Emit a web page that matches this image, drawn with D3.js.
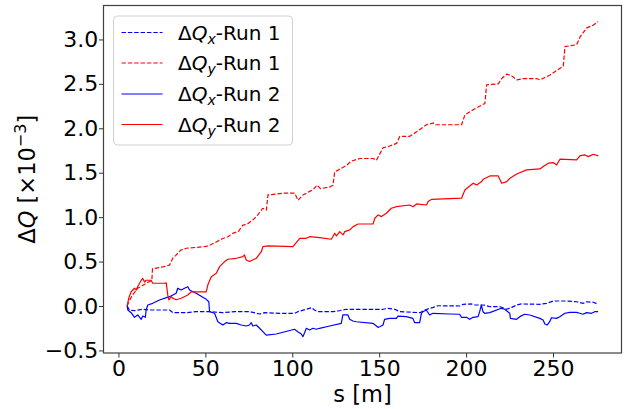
<!DOCTYPE html>
<html>
<head>
<meta charset="utf-8">
<script src="https://cdn.jsdelivr.net/npm/d3@7"></script>
<style>
  html, body { margin: 0; padding: 0; background: #fff; }
  svg { display: block; font-family: "DejaVu Sans", sans-serif; }
</style>
</head>
<body>
<svg id="chart" width="625" height="409"></svg>
<script>
// Tune shift along the line, s [m] vs ΔQ [×10⁻³]
const qxRun1 = [[5,0],[6.3,-0.045],[9.2,-0.053],[14,-0.037],[17.8,-0.045],[29.4,-0.045],[31.3,-0.075],[39,-0.075],[44.7,-0.064],[52.4,-0.064],[60,-0.075],[66.8,-0.064],[75.4,-0.064],[81.2,-0.09],[84.1,-0.075],[92.7,-0.082],[101.4,-0.082],[103.2,-0.064],[108.1,-0.037],[111,-0.019],[112.8,-0.045],[114.7,-0.064],[123.4,-0.064],[126.2,-0.056],[131.1,-0.037],[152.2,-0.037],[155.1,-0.026],[158.9,-0.037],[161.9,-0.064],[173.4,-0.075],[176.3,-0.045],[179.1,-0.026],[181.1,-0.015],[183.9,0.003],[196.4,0],[198.3,0.019],[203.1,0.023],[205.1,0.011],[209.9,0.011],[213.7,-0.008],[219.5,-0.008],[223.4,-0.037],[226.2,-0.015],[229.1,0.011],[231.8,0.023],[242.5,0.019],[246.4,0.03],[250.2,0.056],[257.9,0.056],[263.6,0.048],[267.5,0.03],[269.4,0.048],[273.2,0.042],[275.9,0.019]];

const qyRun1 = [[5,0],[6,0.05],[8,0.12],[11,0.2],[13,0.22],[16,0.255],[19.2,0.29],[19.6,0.42],[25.5,0.44],[29.4,0.46],[31.3,0.54],[33,0.57],[36,0.63],[39,0.65],[45,0.66],[50.5,0.67],[53,0.69],[56.3,0.72],[60,0.76],[63,0.78],[66,0.82],[69,0.84],[71.6,0.91],[74,0.92],[77.4,0.97],[80,1.02],[83,1.1],[85.1,1.08],[86,1.25],[95,1.27],[101.4,1.27],[103.3,1.19],[106.2,1.25],[110,1.29],[112,1.31],[114.3,1.36],[116.2,1.32],[121.6,1.34],[123.4,1.36],[124.4,1.51],[128.3,1.55],[131,1.58],[134,1.63],[138.8,1.66],[146.5,1.66],[148.4,1.64],[152.2,1.78],[156,1.8],[160,1.83],[161.9,1.91],[167.6,1.91],[171.5,1.96],[177.2,2.04],[181.1,2.06],[182,2.04],[197.4,2.04],[199.3,2.15],[204.1,2.21],[210.8,2.28],[211.8,2.49],[218.5,2.5],[220.5,2.56],[223.4,2.61],[226.2,2.59],[229.1,2.545],[232.9,2.56],[240.6,2.56],[242.5,2.545],[248.3,2.6],[255.9,2.7],[256.9,2.92],[263.6,2.94],[265.6,3.03],[269.4,3.13],[273,3.16],[276,3.2]];

const qxRun2 = [[5,0],[5.4,-0.045],[7.3,-0.075],[9.2,-0.127],[11.1,-0.101],[13.1,-0.15],[14,-0.113],[15.5,-0.127],[15.9,-0.045],[16.9,0.011],[19.7,0.03],[23.6,0.068],[29.4,0.105],[31.3,0.124],[33.2,0.143],[34.1,0.2],[36.1,0.18],[38,0.2],[39.9,0.217],[40.9,0.18],[44.7,0.143],[50.5,0.075],[52,0.048],[52.4,-0.064],[55.3,-0.082],[57.2,-0.177],[60,-0.214],[62,-0.188],[63.9,-0.195],[67.8,-0.195],[70.6,-0.214],[73.5,-0.225],[75.4,-0.214],[76.4,-0.188],[77.3,-0.225],[79.3,-0.214],[81.2,-0.251],[83.1,-0.289],[85,-0.327],[90.8,-0.315],[101.3,-0.262],[103.2,-0.289],[105.2,-0.315],[106.1,-0.346],[107.1,-0.301],[108.1,-0.251],[110,-0.27],[111.9,-0.251],[113.8,-0.262],[115.7,-0.251],[121.5,-0.225],[128.2,-0.195],[129.1,-0.101],[132,-0.101],[133,-0.15],[134.9,-0.169],[136.8,-0.177],[146.4,-0.195],[148.4,-0.225],[149.3,-0.24],[150.3,-0.233],[152.2,-0.214],[153.1,-0.15],[156,-0.139],[159.9,-0.139],[160.8,-0.113],[165.6,-0.12],[169.4,-0.139],[170.4,-0.188],[173.3,-0.188],[174.3,-0.082],[175.2,-0.064],[177.1,-0.045],[179,-0.101],[180.9,-0.082],[190.6,-0.09],[196.3,-0.093],[197.3,-0.127],[200.2,-0.127],[202.1,-0.15],[204,-0.127],[206.9,-0.12],[207.8,-0.064],[208.8,0.011],[209.7,-0.064],[210.7,-0.082],[213.6,-0.075],[220.3,-0.026],[222.2,-0.037],[225.1,-0.082],[225.5,-0.139],[229,-0.15],[230.9,-0.12],[233.7,-0.093],[236.6,-0.101],[242.4,-0.139],[244.3,-0.158],[245.3,-0.203],[246.6,-0.214],[248.1,-0.177],[249.1,-0.132],[252,-0.139],[253.9,-0.12],[256.8,-0.082],[259.6,-0.071],[263.5,-0.071],[265.4,-0.082],[267.3,-0.093],[269.3,-0.075],[272.1,-0.082],[274,-0.064],[275.9,-0.064]];

const qyRun2 = [[5,0],[5.9,0.087],[7.3,0.16],[9.2,0.2],[10.2,0.18],[11.1,0.22],[13.1,0.29],[14,0.31],[15,0.27],[15.9,0.29],[18.8,0.29],[19.7,0.256],[26.5,0.256],[27.5,0.26],[28.4,0.12],[29,0.07],[30.4,0.105],[31.3,0.087],[33.2,0.07],[36.1,0.087],[39.9,0.124],[41.9,0.16],[50.5,0.16],[51.4,0.236],[53.4,0.33],[56.3,0.368],[58.2,0.443],[61.1,0.5],[63,0.526],[67.8,0.537],[71.6,0.555],[72.5,0.574],[73.5,0.518],[75.4,0.5],[79.3,0.537],[82.2,0.611],[83.1,0.668],[86,0.676],[100.4,0.668],[104.3,0.762],[108.1,0.762],[110,0.78],[115.8,0.769],[122.5,0.751],[124.4,0.819],[125.4,0.788],[127.3,0.837],[129.2,0.8],[130.2,0.837],[133.1,0.856],[135,0.893],[137.9,0.923],[146.5,0.923],[147.5,0.988],[149.4,1.025],[151.3,1.006],[154.1,1.044],[157,1.1],[159.9,1.118],[167.6,1.137],[169.5,1.118],[171.5,1.149],[177.2,1.137],[178.2,1.175],[180.1,1.2],[197.4,1.213],[199.3,1.306],[201.2,1.337],[204.1,1.382],[206.1,1.363],[208.9,1.4],[209.9,1.427],[213.7,1.464],[218.5,1.464],[220.5,1.382],[223.4,1.4],[225.2,1.438],[229.1,1.486],[234.8,1.532],[242.5,1.543],[244.4,1.569],[247.3,1.607],[250.1,1.614],[252.1,1.588],[254,1.652],[263.6,1.644],[265.6,1.693],[268.4,1.7],[270.3,1.681],[273.2,1.708],[276.1,1.689]];

const xTicks = [0, 50, 100, 150, 200, 250];
const yTicks = [-0.5, 0.0, 0.5, 1.0, 1.5, 2.0, 2.5, 3.0];

const seriesNames = ["Run 1", "Run 1", "Run 2", "Run 2"];
const seriesComponents = ["x", "y", "x", "y"];
const seriesColors = ["#0000ff", "#ff0000", "#0000ff", "#ff0000"];
const seriesDashed = [true, true, false, false];
const seriesData = [qxRun1, qyRun1, qxRun2, qyRun2];

const svg = d3.select("#chart");
const plot = { left: 103.5, top: 5.5, right: 621.5, bottom: 353 };
const tickFont = "22px";
const labelFont = "22.5px";

const x = d3.scaleLinear().domain([-8.6, 289.4]).range([plot.left, plot.right]);
const y = d3.scaleLinear().domain([-0.529, 3.382]).range([plot.bottom, plot.top]);

// Lines, clipped to the axes box
svg.append("clipPath").attr("id", "clip")
  .append("rect")
  .attr("x", plot.left).attr("y", plot.top)
  .attr("width", plot.right - plot.left).attr("height", plot.bottom - plot.top);

const line = d3.line().x(d => x(d[0])).y(d => y(d[1]));
const lw = 1.2;

const linesG = svg.append("g").attr("clip-path", "url(#clip)");
seriesData.forEach((data, i) => {
  linesG.append("path")
    .datum(data)
    .attr("d", line)
    .attr("fill", "none")
    .attr("stroke", seriesColors[i])
    .attr("stroke-width", lw)
    .attr("stroke-linejoin", "round")
    .attr("stroke-dasharray", seriesDashed[i] ? `${3.7 * lw},${1.6 * lw}` : null);
});

// Axes
const xAxis = svg.append("g")
  .attr("transform", `translate(0,${plot.bottom})`)
  .call(d3.axisBottom(x).tickValues(xTicks).tickFormat(d3.format("d")).tickSize(4.5).tickPadding(3.2));
const yAxis = svg.append("g")
  .attr("transform", `translate(${plot.left},0)`)
  .call(d3.axisLeft(y).tickValues(yTicks).tickFormat(d => d < 0 ? "\u2212" + Math.abs(d).toFixed(1) : d.toFixed(1)).tickSize(4.5).tickPadding(0.8));

[xAxis, yAxis].forEach(g => {
  g.select(".domain").remove();
  g.selectAll(".tick line").attr("stroke", "#333").attr("stroke-width", 1);
  g.selectAll(".tick text")
    .attr("fill", "#000")
    .style("font-family", "'DejaVu Sans', sans-serif")
    .style("font-size", tickFont);
});

// Axes frame
svg.append("rect")
  .attr("x", plot.left).attr("y", plot.top)
  .attr("width", plot.right - plot.left).attr("height", plot.bottom - plot.top)
  .attr("fill", "none").attr("stroke", "#404040").attr("stroke-width", 1.2);

// Axis labels
svg.append("text")
  .attr("x", (plot.left + plot.right) / 2).attr("y", 402)
  .attr("text-anchor", "middle")
  .style("font-size", labelFont)
  .text("s [m]");

const yLabel = svg.append("text")
  .attr("transform", `translate(35,${(plot.top + plot.bottom) / 2}) rotate(-90)`)
  .attr("text-anchor", "middle")
  .style("font-size", labelFont);
yLabel.append("tspan").text("\u0394");
yLabel.append("tspan").style("font-style", "italic").text("Q");
yLabel.append("tspan").text(" [\u00d710");
yLabel.append("tspan").attr("dy", -9).style("font-size", "16px").text("\u22123");
yLabel.append("tspan").attr("dy", 9).text("]");

// Legend
const legend = svg.append("g");
legend.append("rect")
  .attr("x", 113.5).attr("y", 16)
  .attr("width", 179).attr("height", 129)
  .attr("rx", 4)
  .attr("fill", "#fff").attr("fill-opacity", 0.8)
  .attr("stroke", "#d0d0d0").attr("stroke-width", 1);

const rowY = [32.5, 63, 94, 124.5];
seriesData.forEach((_, i) => {
  const ry = rowY[i];
  legend.append("line")
    .attr("x1", 121.5).attr("x2", 162.5)
    .attr("y1", ry).attr("y2", ry)
    .attr("stroke", seriesColors[i])
    .attr("stroke-width", lw)
    .attr("stroke-dasharray", seriesDashed[i] ? `${3.7 * lw},${1.6 * lw}` : null);
  const t = legend.append("text")
    .attr("x", 178).attr("y", ry + 7)
    .style("font-size", "20px");
  t.append("tspan").text("\u0394");
  t.append("tspan").style("font-style", "italic").text("Q");
  t.append("tspan").attr("dy", 4).style("font-style", "italic").style("font-size", "14px").text(seriesComponents[i]);
  t.append("tspan").attr("dy", -4).text("-" + seriesNames[i]);
});
</script>
</body>
</html>
